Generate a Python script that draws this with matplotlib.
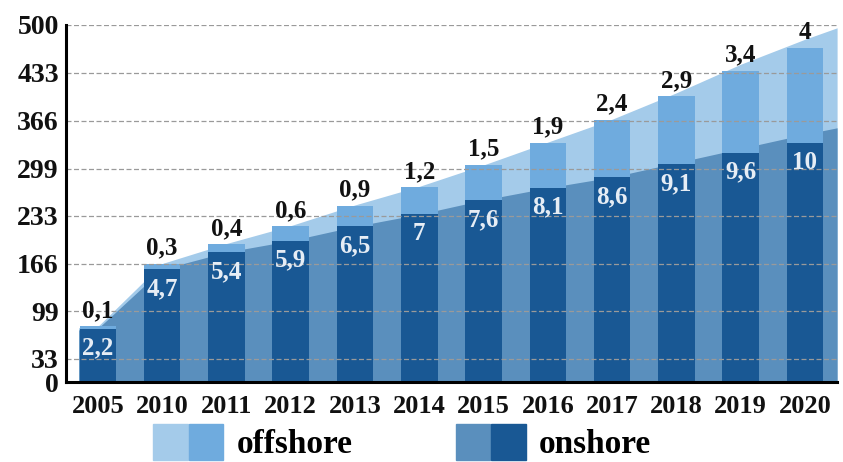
import numpy as np
import matplotlib
matplotlib.use("Agg")
import matplotlib.pyplot as plt
from matplotlib.patches import Patch
from matplotlib.legend_handler import HandlerTuple

# Data
years = ["2005", "2010", "2011", "2012", "2013", "2014", "2015",
         "2016", "2017", "2018", "2019", "2020"]
onshore = [75, 158, 182, 198, 218, 235, 255, 272, 287, 305, 321, 335]
offshore = [3, 8, 11, 20, 29, 38, 49, 63, 80, 95, 115, 133]
onshore_labels = ["2,2", "4,7", "5,4", "5,9", "6,5", "7", "7,6",
                  "8,1", "8,6", "9,1", "9,6", "10"]
offshore_labels = ["0,1", "0,3", "0,4", "0,6", "0,9", "1,2", "1,5",
                   "1,9", "2,4", "2,9", "3,4", "4"]
yticks = [0, 33, 99, 166, 233, 299, 366, 433, 500]

# background "trend" areas behind the bars
area_x = [-0.3, 0, 1, 2, 3, 4, 5, 6, 7, 8, 9, 10, 11, 11.5]
area_light = [76, 78, 166, 194, 219, 248, 274, 304, 336, 368, 405, 445, 480, 496]
area_mid = [73, 75, 158, 182, 198, 218, 235, 255, 272, 287, 307, 327, 347, 356]

c_light = "#a4cbea"
c_off = "#6fabde"
c_mid = "#5a8fbd"
c_on = "#195894"

plt.rcParams["font.family"] = ["Liberation Serif", "DejaVu Serif"]
plt.rcParams["font.weight"] = "bold"

fig = plt.figure(figsize=(8.43, 4.62), dpi=100)
ax = fig.add_axes([0.078, 0.173, 0.915, 0.773])

x = np.arange(len(years))
ax.fill_between(area_x, 0, area_light, color=c_light, lw=0, zorder=0)
ax.fill_between(area_x, 0, area_mid, color=c_mid, lw=0, zorder=0.5)

ax.bar(x, onshore, width=0.57, color=c_on, zorder=2)
ax.bar(x, offshore, width=0.57, bottom=onshore, color=c_off, zorder=2)

totals = np.array(onshore) + np.array(offshore)
for i in range(len(years)):
    ax.annotate(offshore_labels[i], (x[i], totals[i]), xytext=(0, 3),
                textcoords="offset points", ha="center", va="bottom",
                fontsize=18, fontweight="bold", color="#111111", zorder=3)
    ax.annotate(onshore_labels[i], (x[i], onshore[i]), xytext=(0, -14),
                textcoords="offset points", ha="center", va="center",
                fontsize=18, fontweight="bold", color="#e6edf5", zorder=3)

ax.set_xlim(-0.5, 11.5)
ax.set_ylim(0, 500)
ax.set_yticks(yticks)
ax.set_xticks(x)
ax.set_xticklabels(years)
ax.tick_params(axis="both", length=0, colors="#111111")
ax.tick_params(axis="y", pad=5, labelsize=20)
ax.tick_params(axis="x", pad=9, labelsize=19)
for lab in ax.get_xticklabels() + ax.get_yticklabels():
    lab.set_fontweight("bold")

ax.yaxis.grid(True, linestyle=(0, (4, 2)), color="#9a9a9a", lw=0.9, zorder=1)
ax.set_axisbelow(False)
for g in ax.get_ygridlines():
    g.set_zorder(1)

for s in ["top", "right"]:
    ax.spines[s].set_visible(False)
ax.spines["left"].set_linewidth(2.2)
ax.spines["bottom"].set_linewidth(2.2)
ax.spines["left"].set_zorder(4)
ax.spines["bottom"].set_zorder(4)

h_off = (Patch(color=c_light), Patch(color=c_off))
h_on = (Patch(color=c_mid), Patch(color=c_on))
fig.legend([h_off, h_on], ["offshore", "onshore"],
           handler_map={tuple: HandlerTuple(ndivide=None, pad=0.03)},
           loc="upper left", bbox_to_anchor=(0.1815, 0.082), ncol=2,
           frameon=False, handlelength=2.1, handleheight=1.3,
           columnspacing=3.1, handletextpad=0.4, borderpad=0,
           borderaxespad=0,
           prop={"family": "Liberation Serif", "weight": "bold", "size": 24})

fig.savefig("out.png", dpi=100)
